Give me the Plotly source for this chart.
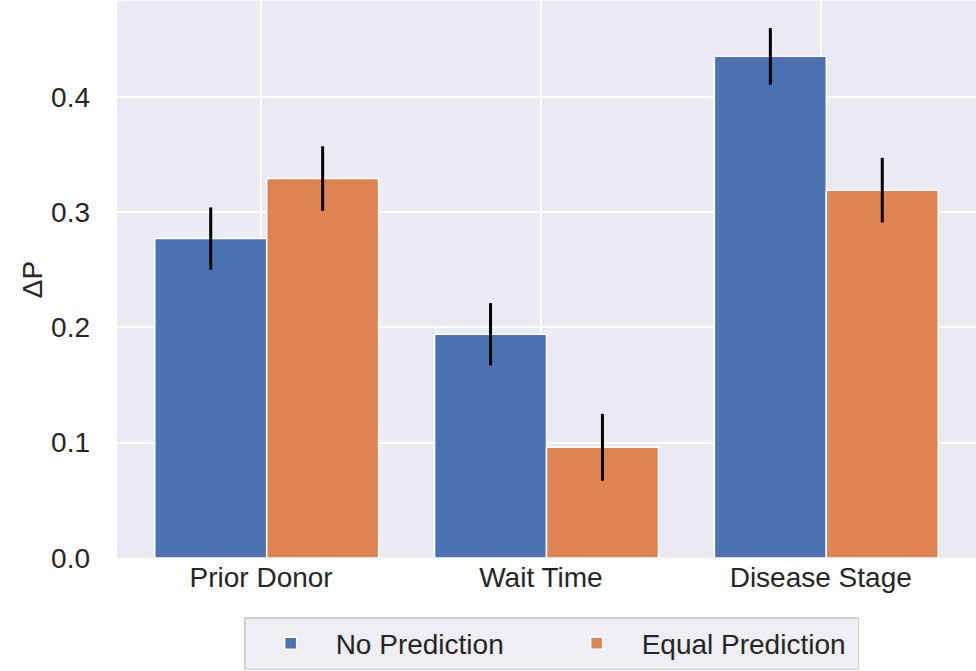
import plotly.graph_objects as go

# Effect of each factor on ΔP, by prediction condition
categories = ["Prior Donor", "Wait Time", "Disease Stage"]
no_prediction = [0.277, 0.194, 0.435]
no_prediction_err = [0.027, 0.027, 0.0245]
equal_prediction = [0.329, 0.096, 0.319]
equal_prediction_err = [0.028, 0.029, 0.028]
y_ticks = [0.0, 0.1, 0.2, 0.3, 0.4]

BLUE = "#4C72B0"
ORANGE = "#DD8452"
TEXT = "#262626"
FONT = "Liberation Sans, Arial, sans-serif"
BAR_W = 0.4
SHIFT = 0.02  # small rightward nudge of each bar pair

fig = go.Figure()
for name, vals, errs, color, off in [
    ("No Prediction", no_prediction, no_prediction_err, BLUE, -BAR_W + SHIFT),
    ("Equal Prediction", equal_prediction, equal_prediction_err, ORANGE, SHIFT),
]:
    fig.add_trace(go.Bar(
        x=categories, y=vals, name=name,
        width=BAR_W, offset=off,
        marker=dict(color=color, line=dict(color="white", width=1.5)),
        error_y=dict(type="data", array=errs, visible=True,
                     color="black", thickness=3, width=0),
    ))

fig.update_layout(
    width=976, height=671,
    margin=dict(l=117, r=0, t=1, b=113),
    paper_bgcolor="white",
    plot_bgcolor="#EAEAF2",
    barmode="overlay",
    font=dict(family=FONT, size=28, color=TEXT),
    showlegend=True,
    legend=dict(
        orientation="h", x=0.506, xanchor="center", y=-0.106, yanchor="top",
        bgcolor="#EEEEF4", bordercolor="#D0D0D0", borderwidth=1.5,
        font=dict(size=28, color=TEXT), itemwidth=80,
        entrywidth=211, entrywidthmode="pixels",
    ),
)
fig.update_xaxes(
    range=[-0.515, 2.555], showgrid=True, gridcolor="white", gridwidth=2,
    showline=False, zeroline=False, ticks="", tickfont=dict(size=28),
)
fig.update_yaxes(
    range=[0, 0.483], tickvals=y_ticks, tickformat=".1f",
    showgrid=True, gridcolor="white", gridwidth=2, zeroline=False,
    showline=False, ticks="", ticklabelstandoff=26, tickfont=dict(size=28),
    title=dict(text="ΔP", font=dict(size=28), standoff=0),
)

fig.write_html("out.html")
